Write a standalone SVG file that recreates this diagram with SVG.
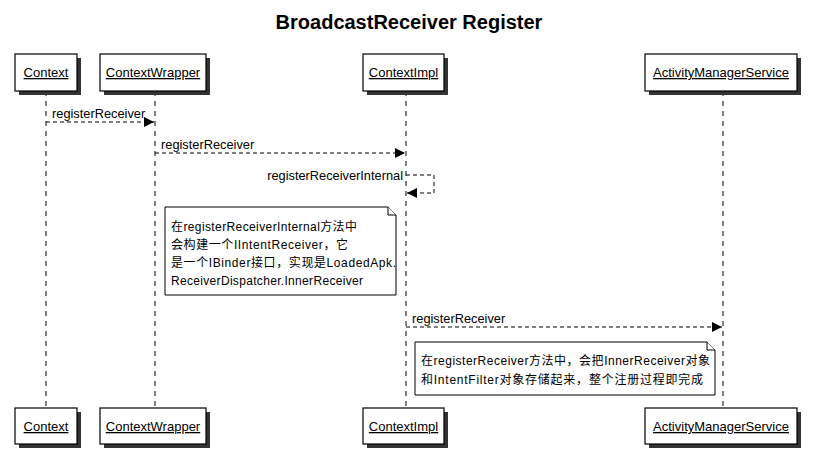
<svg xmlns="http://www.w3.org/2000/svg" width="816" height="469" viewBox="0 0 816 469">
<style>
text{font-family:"Liberation Sans","Noto Sans CJK SC",sans-serif;fill:#000}
.title{font-size:20px;font-weight:bold}
.pname{font-size:13px;text-decoration:underline}
.msg{font-size:12.8px}
.note{font-size:12px}
.box{fill:#fff;stroke:#000;stroke-width:1.2}
.shadow{fill:#333}
.life{stroke:#000;stroke-width:1;stroke-dasharray:5,5;fill:none}
.arrow{stroke:#000;stroke-width:1;stroke-dasharray:4,3;fill:none}
.notebox{fill:#fff;stroke:#000;stroke-width:1}
</style>
<defs>
<marker id="ah" markerWidth="10" markerHeight="10" refX="10" refY="5" orient="auto" markerUnits="userSpaceOnUse">
<path d="M0,0 L10,5 L0,10 Z" fill="#000"/>
</marker>
</defs>
<text class="title" x="409" y="29" text-anchor="middle">BroadcastReceiver Register</text>
<g id="lifelines">
<line class="life" x1="46" y1="91" x2="46" y2="408"/>
<line class="life" x1="155" y1="91" x2="155" y2="408"/>
<line class="life" x1="406" y1="91" x2="406" y2="408"/>
<line class="life" x1="723" y1="91" x2="723" y2="408"/>
</g>
<g id="p-context">
<rect class="shadow" x="19" y="58" width="62" height="37"/>
<rect class="box" x="15" y="54" width="62" height="37"/>
<text class="pname" x="46" y="77" text-anchor="middle">Context</text>
<rect class="shadow" x="19" y="412" width="62" height="36"/>
<rect class="box" x="15" y="408" width="62" height="36"/>
<text class="pname" x="46" y="431" text-anchor="middle">Context</text>
</g>
<g id="p-contextwrapper">
<rect class="shadow" x="104" y="58" width="106" height="37"/>
<rect class="box" x="100" y="54" width="106" height="37"/>
<text class="pname" x="153" y="77" text-anchor="middle">ContextWrapper</text>
<rect class="shadow" x="104" y="412" width="106" height="36"/>
<rect class="box" x="100" y="408" width="106" height="36"/>
<text class="pname" x="153" y="431" text-anchor="middle">ContextWrapper</text>
</g>
<g id="p-contextimpl">
<rect class="shadow" x="367" y="58" width="81" height="37"/>
<rect class="box" x="363" y="54" width="81" height="37"/>
<text class="pname" x="403.5" y="77" text-anchor="middle">ContextImpl</text>
<rect class="shadow" x="367" y="412" width="81" height="36"/>
<rect class="box" x="363" y="408" width="81" height="36"/>
<text class="pname" x="403.5" y="431" text-anchor="middle">ContextImpl</text>
</g>
<g id="p-ams">
<rect class="shadow" x="649" y="58" width="152" height="37"/>
<rect class="box" x="645" y="54" width="152" height="37"/>
<text class="pname" x="721" y="77" text-anchor="middle">ActivityManagerService</text>
<rect class="shadow" x="649" y="412" width="152" height="36"/>
<rect class="box" x="645" y="408" width="152" height="36"/>
<text class="pname" x="721" y="431" text-anchor="middle">ActivityManagerService</text>
</g>
<g id="connectors">
<line class="arrow" x1="46" y1="122" x2="154" y2="122" marker-end="url(#ah)"/>
<text class="msg" x="52" y="118">registerReceiver</text>
<line class="arrow" x1="155" y1="153" x2="405" y2="153" marker-end="url(#ah)"/>
<text class="msg" x="161" y="149">registerReceiver</text>
<path class="arrow" d="M406,175 L434,175 L434,193 L407,193" marker-end="url(#ah)"/>
<text class="msg" x="403" y="180" text-anchor="end">registerReceiverInternal</text>
<line class="arrow" x1="406" y1="327" x2="722" y2="327" marker-end="url(#ah)"/>
<text class="msg" x="412" y="323">registerReceiver</text>
</g>
<g id="note1">
<path class="notebox" d="M165,207 L388,207 L396,215 L396,295 L165,295 Z"/>
<path class="notebox" d="M388,207 L388,215 L396,215"/>
<text class="note" x="171" y="231" textLength="186" lengthAdjust="spacing">在registerReceiverInternal方法中</text>
<text class="note" x="171" y="249" textLength="177" lengthAdjust="spacing">会构建一个IIntentReceiver，它</text>
<text class="note" x="171" y="267" textLength="225" lengthAdjust="spacing">是一个IBinder接口，实现是LoadedApk.</text>
<text class="note" x="171" y="285" textLength="192" lengthAdjust="spacing">ReceiverDispatcher.InnerReceiver</text>
</g>
<g id="note2">
<path class="notebox" d="M415,342 L707,342 L715,350 L715,395 L415,395 Z"/>
<path class="notebox" d="M707,342 L707,350 L715,350"/>
<text class="note" x="421" y="365" textLength="289" lengthAdjust="spacing">在registerReceiver方法中，会把InnerReceiver对象</text>
<text class="note" x="421" y="384" textLength="282" lengthAdjust="spacing">和IntentFilter对象存储起来，整个注册过程即完成</text>
</g>
</svg>
